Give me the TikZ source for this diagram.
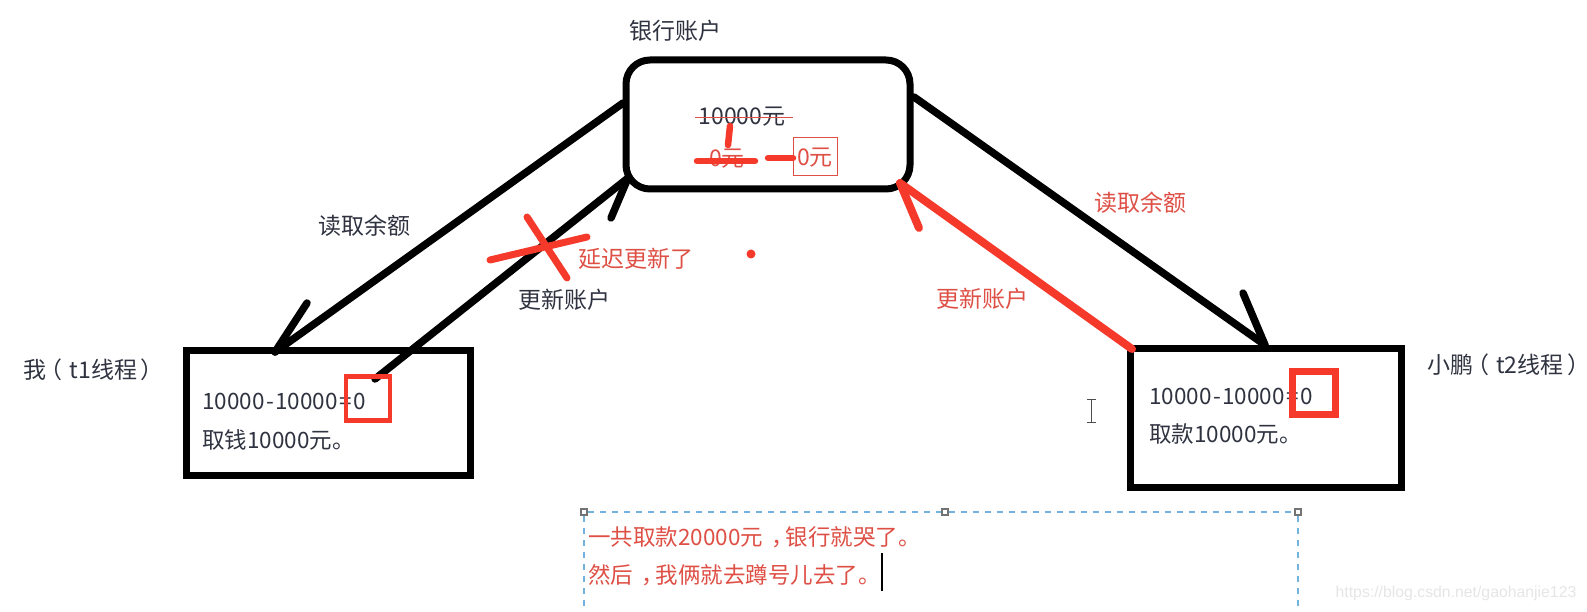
\documentclass[tikz,border=0pt]{standalone}
\usepackage{fontspec}
\setmainfont{Noto Sans CJK SC}
\newfontfamily\markfont{Liberation Sans}
\usepackage{xcolor}
\usetikzlibrary{positioning}
\definecolor{inkred}{HTML}{F5392A}
\definecolor{textred}{HTML}{DE4F45}
\definecolor{textdark}{HTML}{2F3340}
\definecolor{dashblue}{HTML}{72B2DC}
% spaced punctuation and sums
\newcommand{\lparen}{\kern-.3em（\kern.3em}
\newcommand{\rparen}{\kern.15em）\kern-.15em}
\newcommand{\midcomma}{\kern.35em，\kern-.35em}
\newcommand{\sumline}{10000\kern1.5pt-\kern1.5pt10000\kern1.5pt=\kern1.5pt0}
\begin{document}
\begin{tikzpicture}[x=1pt, y=-1pt,
    holder/.style={draw=black, line width=7pt, inner sep=0pt, outer sep=0pt},
    label/.style={font=\fontsize{23}{26}\selectfont, inner sep=0pt, text=textdark},
    redlabel/.style={label, text=textred},
    body/.style={label, font=\fontsize{22.5}{26}\selectfont, anchor=west},
    heavy/.style={line width=7.5pt, line cap=round},
    redmark/.style={inkred, line width=6.5pt, line cap=round},
    handle/.style={draw=black!55, fill=white, line width=1.3pt, inner sep=0pt, minimum size=6pt}]
    \useasboundingbox (0,0) rectangle (1587,612);
    % holders
    \node[holder, rounded corners=24pt, minimum width=284pt, minimum height=129pt] (acct) at (768,124.5) {};
    \node[holder, minimum width=284pt, minimum height=125pt] (me) at (328,412.5) {};
    \node[holder, minimum width=271pt, minimum height=139pt] (peng) at (1265.5,418) {};
    % texts
    \node[label] (acctname) at (675,31) {银行账户};
    \node[label] (mename) at (92,370) {我\lparen t1线程\rparen};
    \node[label] (pengname) at (1507,365) {小鹏\lparen t2线程\rparen};
    \node[label] (readleft) at (364,226) {读取余额};
    \node[label] (updleft) at (564,300) {更新账户};
    \node[redlabel] (readright) at (1140,203) {读取余额};
    \node[redlabel] (updright) at (982,299) {更新账户};
    \node[redlabel] (late) at (636,259) {延迟更新了};
    \node[body] (mecalc) at (202,401) {\sumline};
    \node[body] (metake) at (202,440) {取钱10000元。};
    \node[body] (pengcalc) at (1149,396) {\sumline};
    \node[body] (pengtake) at (1149,434) {取款10000元。};
    \node[label] (oldsum) at (742,117) {10000元};
    \node[redlabel] (zeroa) at (727,159) {0元};
    \node[redlabel, draw=textred, line width=1pt, minimum width=44pt, minimum height=38pt, text depth=0pt] (zerob) at (815,157) {0元};
    \node[redlabel, body, text=textred] (sumup) at (588,537) {一共取款20000元\midcomma 银行就哭了。};
    \node[redlabel, body, text=textred] (hideout) at (588,575) {然后\midcomma 我俩就去蹲号儿去了。};
    \node[font=\markfont\fontsize{15.8}{18}\selectfont, text=black!10, inner sep=0pt] (wmark) at (1456,593) {https://blog.csdn.net/gaohanjie123};
    % arrow ends
    \coordinate (a1) at (623,103);
    \coordinate (a2) at (275,352);
    \coordinate (a3) at (307,303);
    \coordinate (b1) at (375,379);
    \coordinate (b2) at (628,178);
    \coordinate (b3) at (611,218);
    \coordinate (c1) at (914,97);
    \coordinate (c2) at (1265,345);
    \coordinate (c3) at (1243,293);
    \foreach \to/\from in
    {a1/a2,a2/a3,b1/b2,b2/b3,c1/c2,c2/c3} \draw[heavy] (\to)--(\from);
    \coordinate (d1) at (1132,349);
    \coordinate (d2) at (900,183);
    \coordinate (d3) at (919,228);
    \foreach \to/\from in
    {d1/d2,d2/d3} \draw[redmark, line width=8pt] (\to)--(\from);
    % red boxes
    \node[draw=inkred, line width=4.5pt, minimum width=44pt, minimum height=44pt, inner sep=0pt] (mezero) at (368,398.5) {};
    \node[draw=inkred, line width=6.5pt, minimum width=43pt, minimum height=43pt, inner sep=0pt] (pengzero) at (1314,393) {};
    % marks on the account
    \draw[textred, line width=1pt] (695,118) -- (793,118);
    \draw[redmark] (730,126) -- (728,145);
    \draw[redmark] (697,161) -- (755,161);
    \draw[redmark] (768,158) -- (793,158);
    % cross
    \draw[redmark, line width=7pt] (490,260) -- (587,237);
    \draw[redmark, line width=7pt] (527,217) -- (567,278);
    \fill[inkred] (751,254) circle (4.5);
    % text frame
    \node[handle] (hleft) at (584,512) {};
    \node[handle] (hmid) at (945,512) {};
    \node[handle] (hright) at (1298,512) {};
    \coordinate (hleftend) at (584,612);
    \coordinate (hrightend) at (1298,612);
    \foreach \to/\from in
    {hleft/hmid,hmid/hright,hleft/hleftend,hright/hrightend} \draw[dashblue, line width=1.2pt, dash pattern=on 6pt off 6pt] (\to)--(\from);
    % caret
    \draw[black, line width=1.3pt] (882,553) -- (882,591);
    % mouse cursor
    \draw[black!70, line width=1pt] (1087,399) -- (1096,399) (1087,422) -- (1096,422) (1091.5,399) -- (1091.5,422);
\end{tikzpicture}
\end{document}
